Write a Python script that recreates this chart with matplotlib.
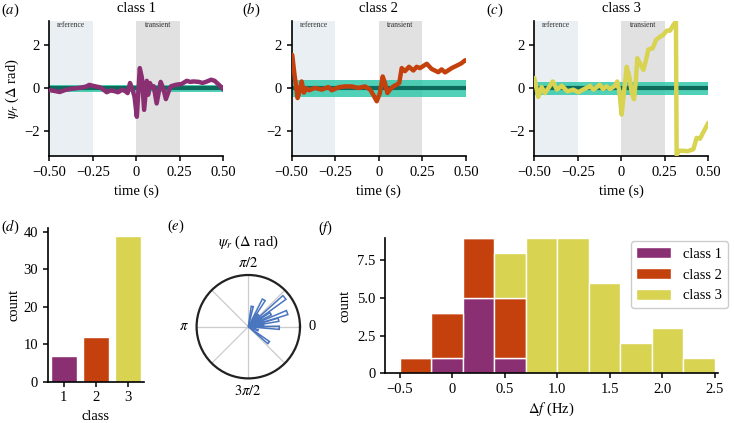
import numpy as np
import matplotlib
matplotlib.use("Agg")
import matplotlib.pyplot as plt

plt.rcParams["font.family"] = ["Liberation Serif", "DejaVu Serif"]
plt.rcParams["mathtext.fontset"] = "stix"
plt.rcParams["font.size"] = 10

W, H = 734, 423

# ---------------- data ----------------
t1 = [-0.50, -0.47, -0.44, -0.41, -0.38, -0.35, -0.32, -0.29, -0.27, -0.24, -0.21, -0.19,
      -0.17, -0.15, -0.13, -0.105, -0.08, -0.06, -0.05, -0.036, -0.02, -0.01, 0.003, 0.02,
      0.032, 0.045, 0.06, 0.068, 0.078, 0.09, 0.10, 0.117, 0.14, 0.155, 0.17, 0.19, 0.20,
      0.23, 0.26, 0.29, 0.31, 0.33, 0.36, 0.38, 0.40, 0.43, 0.45, 0.47, 0.49, 0.50]
psi1 = [-0.08, -0.12, -0.17, -0.08, -0.03, 0.0, 0.03, 0.08, 0.16, 0.10, 0.05, -0.05,
        -0.18, -0.10, -0.12, -0.18, -0.06, -0.15, -0.22, 0.25, -0.10, -0.40, -1.32, 0.94,
        0.50, -1.00, 0.35, -0.30, 0.25, 0.05, 0.10, -0.70, 0.30, 0.0, -0.50, -0.05, 0.10,
        0.17, 0.20, 0.35, 0.30, 0.32, 0.30, 0.25, 0.30, 0.40, 0.35, 0.20, 0.05, -0.05]

t2 = [-0.497, -0.485, -0.466, -0.452, -0.443, -0.43, -0.416, -0.40, -0.366, -0.328, -0.29,
      -0.27, -0.23, -0.194, -0.156, -0.118, -0.08, -0.05, -0.032, -0.012, 0.006, 0.022,
      0.035, 0.049, 0.064, 0.083, 0.102, 0.117, 0.131, 0.15, 0.173, 0.198, 0.217, 0.236,
      0.275, 0.303, 0.341, 0.36, 0.38, 0.418, 0.456, 0.475, 0.494, 0.50]
psi2 = [1.55, 0.70, -0.45, -0.06, 0.32, -0.20, 0.0, -0.09, 0.02, -0.06, 0.06,
        -0.09, 0.05, 0.09, 0.09, 0.02, 0.09, -0.06, -0.30, -0.60, -0.22, 0.55,
        0.25, -0.22, -0.06, 0.09, 0.17, 0.25, 0.94, 0.80, 1.00, 0.83, 1.00, 0.94,
        1.14, 0.90, 0.75, 0.88, 0.74, 0.94, 1.09, 1.17, 1.30, 1.30]

t3 = [-0.50, -0.477, -0.458, -0.439, -0.42, -0.394, -0.37, -0.342, -0.31, -0.276, -0.247,
      -0.22, -0.19, -0.18, -0.16, -0.14, -0.123, -0.105, -0.085, -0.065, -0.036, -0.023,
      -0.011, 0.002, 0.015, 0.031, 0.046, 0.06, 0.073, 0.084, 0.092, 0.111, 0.127, 0.142,
      0.155, 0.18, 0.20, 0.222, 0.241, 0.261, 0.28, 0.299, 0.314, 0.318, 0.33, 0.36, 0.38,
      0.414, 0.433, 0.452, 0.47, 0.50]
psi3 = [0.48, -0.40, 0.06, -0.22, 0.0, 0.32, -0.06, 0.12, -0.14, -0.06, -0.18,
        -0.06, 0.06, 0.12, -0.06, 0.06, 0.17, -0.03, 0.09, -0.03, 0.12, 0.32,
        -0.14, -1.22, -0.22, 1.00, 0.55, -0.20, -0.50, 0.40, 1.40, 1.10, 0.86, 1.32,
        1.80, 1.86, 2.25, 2.40, 2.48, 2.68, 2.68, 2.94, 3.10, -3.10, -2.90, -2.90, -2.92,
        -2.83, -2.30, -2.34, -2.06, -1.60]

series_t = [t1, t2, t3]
series_psi = [psi1, psi2, psi3]
band_halfwidth = [0.15, 0.40, 0.30]
class_names = ["class 1", "class 2", "class 3"]
class_colors = ["#8b2f73", "#c4410e", "#d8d350"]

class_ids = [1, 2, 3]
class_counts = [7, 12, 39]

# polar rose (angle in degrees, count)
rose_deg = [79, 60, 50, 39, 30, 20, 13, 6, -2, -20, -38]
rose_count = [4, 6, 3, 9, 5, 8, 6, 3, 6, 2, 5]

# stacked histogram of delta f
hist_left = [-0.5, -0.2, 0.1, 0.4, 0.7, 1.0, 1.3, 1.6, 1.9, 2.2]
hist_width = 0.3
hist_c1 = [0, 1, 5, 1, 0, 0, 0, 0, 0, 0]
hist_c2 = [1, 3, 4, 4, 0, 0, 0, 0, 0, 0]
hist_c3 = [0, 0, 0, 3, 9, 9, 6, 2, 3, 1]


def box(x0, y0, x1, y1):
    # pixel box (top-left origin) -> figure fraction rect
    return [x0 / W, 1 - y1 / H, (x1 - x0) / W, (y1 - y0) / H]


def style(ax):
    for s in ("top", "right"):
        ax.spines[s].set_visible(False)
    for s in ("left", "bottom"):
        ax.spines[s].set_linewidth(1.2)
    ax.tick_params(length=3.5, width=1.1, labelsize=10.5)


fig = plt.figure(figsize=(W / 100, H / 100), dpi=100)

# ---------------- top row: time series ----------------
top_boxes = [(49.3, 20.7, 223.3, 156), (291.7, 20.7, 466, 156), (534.3, 20.7, 708.3, 156)]
for i, bx in enumerate(top_boxes):
    ax = fig.add_axes(box(*bx))
    ax.axvspan(-0.5, -0.25, color="#e9eff2", lw=0, zorder=0)
    ax.axvspan(0.0, 0.25, color="#e1e1e1", lw=0, zorder=0)
    ax.text(-0.375, 0.965, "reference", transform=ax.get_xaxis_transform(),
            ha="center", va="center", fontsize=5.5, color="#333333")
    ax.text(0.125, 0.965, "transient", transform=ax.get_xaxis_transform(),
            ha="center", va="center", fontsize=5.5, color="#333333")
    hw = band_halfwidth[i]
    ax.fill_between([-0.5, 0.5], [-hw, -hw], [hw, hw], color="#33c9ab", alpha=0.85,
                    lw=0, zorder=1)
    ax.plot([-0.5, 0.5], [0, 0], color="#0d6b5c", lw=3, zorder=2)
    ax.plot(series_t[i], series_psi[i], color=class_colors[i], lw=3.2, zorder=3,
            solid_joinstyle="round", solid_capstyle="round")
    ax.set_xlim(-0.5, 0.5)
    ax.set_ylim(-np.pi, np.pi)
    ax.set_xticks([-0.5, -0.25, 0, 0.25, 0.5])
    ax.set_xticklabels(["\u22120.50", "\u22120.25", "0", "0.25", "0.50"])
    ax.set_yticks([-2, 0, 2])
    ax.set_yticklabels(["\u22122", "0", "2"])
    ax.set_xlabel("time (s)", fontsize=10.5, labelpad=4)
    ax.set_title(class_names[i], fontsize=10.5, pad=6)
    style(ax)
    if i == 0:
        ax.set_ylabel(r"$\psi_r$ ($\Delta$ rad)", fontsize=10.5, labelpad=2)

# ---------------- (d) class counts ----------------
axd = fig.add_axes(box(47.7, 228.3, 144, 381.7))
axd.bar(class_ids, class_counts, width=0.8, color=class_colors, edgecolor="white", lw=1)
axd.set_xlim(0.5, 3.5)
axd.set_ylim(0, 41)
axd.set_xticks(class_ids)
axd.set_yticks([0, 10, 20, 30, 40])
axd.set_xlabel("class", fontsize=10.5, labelpad=4)
axd.set_ylabel("count", fontsize=10.5, labelpad=2)
style(axd)

# ---------------- (e) polar rose ----------------
axe = fig.add_axes(box(196.6, 275, 300, 378.4), projection="polar")
axe.bar(np.deg2rad(rose_deg), rose_count, width=2 * np.pi / 60, facecolor="none",
        edgecolor="#4a76c0", lw=1.1, zorder=3)
axe.set_ylim(0, 10)
axe.set_yticks([])
axe.set_xticks(np.deg2rad(np.arange(0, 360, 45)))
axe.set_xticklabels(["0", "", r"$\pi/2$", "", r"$\pi$", "", r"$3\pi/2$", ""], fontsize=10.5)
axe.tick_params(axis="x", pad=-1.5)
axe.xaxis.grid(True, color="#cccccc", lw=0.9)
axe.spines["polar"].set_linewidth(1.6)
axe.spines["polar"].set_color("#222222")
fig.text(248.3 / W, 1 - 242 / H, r"$\psi_r$ ($\Delta$ rad)", ha="center", va="center",
         fontsize=10.5)

# ---------------- (f) stacked histogram ----------------
axf = fig.add_axes(box(385, 237.7, 718, 373.3))
c12 = np.array(hist_c1) + np.array(hist_c2)
axf.bar(hist_left, hist_c1, width=hist_width, align="edge", color=class_colors[0],
        edgecolor="white", lw=1, label="class 1")
axf.bar(hist_left, hist_c2, width=hist_width, align="edge", bottom=hist_c1,
        color=class_colors[1], edgecolor="white", lw=1, label="class 2")
axf.bar(hist_left, hist_c3, width=hist_width, align="edge", bottom=c12,
        color=class_colors[2], edgecolor="white", lw=1, label="class 3")
axf.set_xlim(-0.64, 2.53)
axf.set_ylim(0, 9)
axf.set_yticks([0, 2.5, 5.0, 7.5])
axf.set_yticklabels(["0", "2.5", "5.0", "7.5"])
axf.set_xticks([-0.5, 0, 0.5, 1.0, 1.5, 2.0, 2.5])
axf.set_xticklabels(["\u22120.5", "0", "0.5", "1.0", "1.5", "2.0", "2.5"])
axf.set_xlabel(r"$\Delta f$ (Hz)", fontsize=10.5, labelpad=3)
axf.set_ylabel("count", fontsize=10.5, labelpad=4)
style(axf)
leg = axf.legend(loc="upper right", bbox_to_anchor=(1.03, 0.975), borderaxespad=0,
                 fontsize=10.5, handlelength=2.4, handleheight=0.8, frameon=True,
                 edgecolor="#cccccc", framealpha=1)

# ---------------- panel labels ----------------
labels = [("a", 10, 10), ("b", 251, 10), ("c", 495, 10), ("d", 10, 227), ("e", 176, 226),
          ("f", 326, 228)]
for lt, px, py in labels:
    fig.text(px / W, 1 - py / H, "($%s$)" % lt, ha="center", va="center", fontsize=10.5)

fig.savefig("out.png", dpi=100)
